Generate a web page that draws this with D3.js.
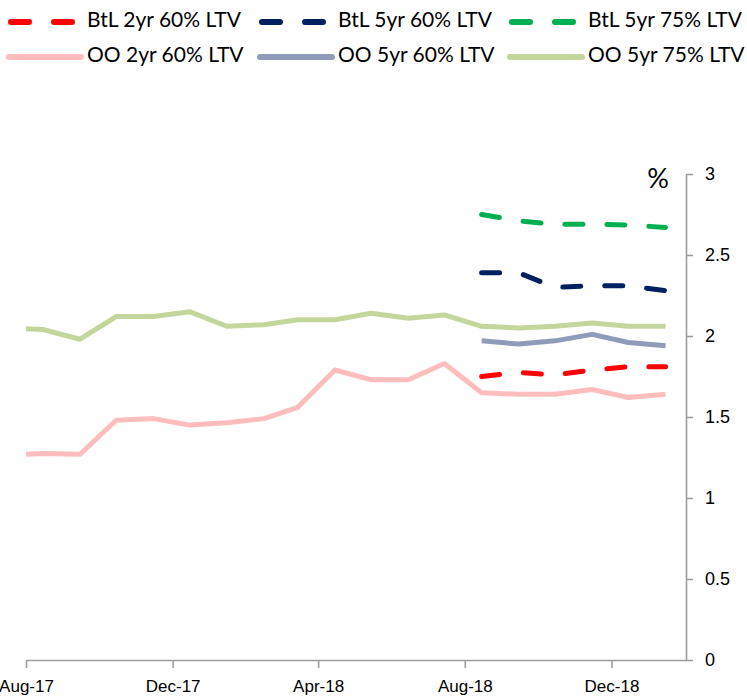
<!DOCTYPE html>
<html>
<head>
<meta charset="utf-8">
<script src="https://cdn.jsdelivr.net/npm/d3@7"></script>
<style>
  body { margin: 0; background: #fff; }
  svg { display: block; font-family: Lato, "Liberation Sans", sans-serif; }
  .axis path, .axis line { stroke: #9d9d9d; stroke-width: 1.6px; }
  .axis text { fill: #000; font-size: 18px; }
  .x-axis text { font-size: 17px; }
</style>
</head>
<body>
<div id="chart"></div>
<script>
// monthly readings (first point sits on the axis start)
const dates = ["2017-08-01", "2017-08-15", "2017-09-15", "2017-10-15", "2017-11-15", "2017-12-15",
    "2018-01-15", "2018-02-15", "2018-03-15", "2018-04-15", "2018-05-15", "2018-06-15",
    "2018-07-15", "2018-08-15", "2018-09-15", "2018-10-15", "2018-11-15", "2018-12-15", "2019-01-15"];

const ooTwo60 = [1.27, 1.275, 1.27, 1.48, 1.49, 1.45, 1.465, 1.49, 1.56, 1.79, 1.73, 1.73, 1.83,
    1.65, 1.64, 1.64, 1.67, 1.62, 1.64];
const ooFive60 = [null, null, null, null, null, null, null, null, null, null, null, null, null,
    1.97, 1.95, 1.97, 2.01, 1.96, 1.94];
const ooFive75 = [2.045, 2.04, 1.98, 2.12, 2.12, 2.15, 2.06, 2.07, 2.10, 2.10, 2.14, 2.11, 2.13,
    2.06, 2.05, 2.06, 2.08, 2.06, 2.06];
const btlTwo60 = [null, null, null, null, null, null, null, null, null, null, null, null, null,
    1.75, 1.775, 1.76, 1.79, 1.81, 1.81];
const btlFive60 = [null, null, null, null, null, null, null, null, null, null, null, null, null,
    2.39, 2.39, 2.30, 2.31, 2.31, 2.28];
const btlFive75 = [null, null, null, null, null, null, null, null, null, null, null, null, null,
    2.75, 2.71, 2.69, 2.69, 2.685, 2.67];

const xTicks = ["2017-08-01", "2017-12-01", "2018-04-01", "2018-08-01", "2018-12-01"];
const yTicks = [0, 0.5, 1, 1.5, 2, 2.5, 3];

const parse = d3.timeParse("%Y-%m-%d");

const series = [
    { name: "OO 2yr 60% LTV", values: ooTwo60, color: "#ffbdbd", dashed: false, col: 0, row: 1 },
    { name: "OO 5yr 60% LTV", values: ooFive60, color: "#8e9cba", dashed: false, col: 1, row: 1 },
    { name: "OO 5yr 75% LTV", values: ooFive75, color: "#c3d69b", dashed: false, col: 2, row: 1 },
    { name: "BtL 2yr 60% LTV", values: btlTwo60, color: "#ff0000", dashed: true, col: 0, row: 0 },
    { name: "BtL 5yr 60% LTV", values: btlFive60, color: "#002060", dashed: true, col: 1, row: 0 },
    { name: "BtL 5yr 75% LTV", values: btlFive75, color: "#00b050", dashed: true, col: 2, row: 0 }
];

const width = 747,
    height = 698,
    margin = ({ top: 174, right: 61, bottom: 38, left: 26 });

const svg = d3.select("#chart")
    .append("svg")
    .attr("width", width)
    .attr("height", height);

const x = d3.scaleTime()
    .domain([parse("2017-08-01"), parse("2019-02-01")])
    .range([margin.left, width - margin.right]);

const y = d3.scaleLinear()
    .domain([0, 3])
    .range([height - margin.bottom, margin.top]);

// x axis
svg.append("g")
    .attr("class", "axis x-axis")
    .attr("transform", `translate(0,${height - margin.bottom})`)
    .call(d3.axisBottom(x)
        .tickValues(xTicks.map(parse))
        .tickSizeOuter(0)
        .tickSizeInner(8)
        .tickPadding(12)
        .tickFormat(d3.timeFormat("%b-%y")));

// y axis on the right
svg.append("g")
    .attr("class", "axis")
    .attr("transform", `translate(${width - margin.right},0)`)
    .call(d3.axisRight(y)
        .tickValues(yTicks)
        .tickSizeOuter(0)
        .tickSizeInner(7)
        .tickPadding(12)
        .tickFormat(d3.format("")));

svg.append("text")
    .attr("x", width - margin.right - 28)
    .attr("y", margin.top + 14)
    .attr("text-anchor", "middle")
    .attr("font-size", "27px")
    .text("%");

const line = d3.line()
    .defined(d => d.v != null)
    .x(d => x(d.date))
    .y(d => y(d.v));

for (let s of series) {
    let pts = dates.map((d, i) => ({ date: parse(d), v: s.values[i] }));
    svg.append("path")
        .datum(pts)
        .attr("fill", "none")
        .attr("stroke", s.color)
        .attr("stroke-width", 5)
        .attr("stroke-linejoin", "round")
        .attr("stroke-linecap", s.dashed ? "round" : "butt")
        .attr("stroke-dasharray", s.dashed ? "18,24" : null)
        .attr("d", line);
}

// legend, two rows of three
const colX = [9, 260, 510],
    rowY = [22, 57];

const legend = svg.append("g");
for (let s of series) {
    let lx = colX[s.col], ly = rowY[s.row];
    legend.append("line")
        .attr("x1", lx + (s.dashed ? 2 : 0))
        .attr("x2", lx + 72)
        .attr("y1", ly)
        .attr("y2", ly)
        .attr("stroke", s.color)
        .attr("stroke-width", 6)
        .attr("stroke-linecap", "round")
        .attr("stroke-dasharray", s.dashed ? "18,25" : null);
    legend.append("text")
        .attr("x", lx + 78)
        .attr("y", ly)
        .attr("dominant-baseline", "middle")
        .attr("font-size", "21px")
        .text(s.name);
}
</script>
</body>
</html>
